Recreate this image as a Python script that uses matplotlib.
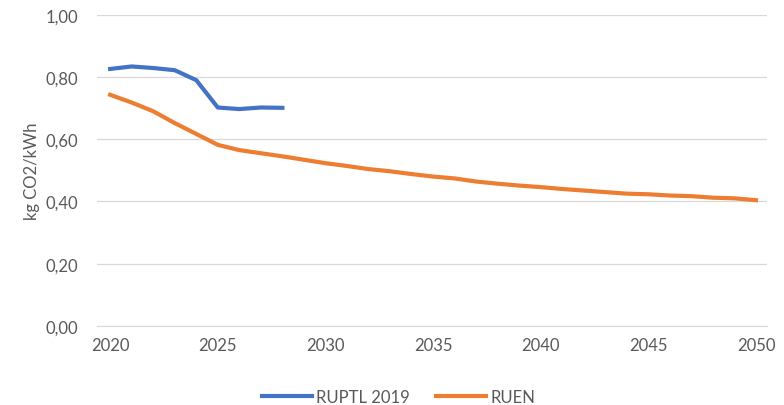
import matplotlib
matplotlib.use("Agg")
import matplotlib.pyplot as plt
from matplotlib.ticker import FuncFormatter

years_ruptl = [2020, 2021, 2022, 2023, 2024, 2025, 2026, 2027, 2028]
ruptl_2019 = [0.826, 0.834, 0.829, 0.822, 0.790, 0.702, 0.697, 0.702, 0.701]

years_ruen = list(range(2020, 2051))
ruen = [0.743, 0.718, 0.690, 0.652, 0.617, 0.582, 0.565, 0.555, 0.545, 0.534,
        0.523, 0.514, 0.504, 0.497, 0.488, 0.480, 0.474, 0.464, 0.457, 0.451,
        0.446, 0.440, 0.435, 0.430, 0.425, 0.423, 0.419, 0.417, 0.412, 0.410,
        0.404]

grey = "#595959"
plt.rcParams['font.family'] = ['Lato', 'DejaVu Sans']

fig = plt.figure(figsize=(7.84, 4.06), dpi=100)
ax = fig.add_axes([0.124, 0.195, 0.854, 0.766])

ax.plot(years_ruptl, ruptl_2019, color="#4472C4", lw=3.0, label="RUPTL 2019")
ax.plot(years_ruen, ruen, color="#ED7D31", lw=3.0, label="RUEN")

ax.set_xlim(2019.4, 2050.5)
ax.set_ylim(0, 1.0)
ax.set_xticks(range(2020, 2051, 5))
ax.set_yticks([0, 0.2, 0.4, 0.6, 0.8, 1.0])
ax.yaxis.set_major_formatter(FuncFormatter(lambda v, p: f"{v:.2f}".replace(".", ",")))
ax.grid(axis="y", color="#D9D9D9", lw=0.9)
ax.set_axisbelow(True)
for s in ["top", "right", "left"]:
    ax.spines[s].set_visible(False)
ax.spines["bottom"].set_color("#D9D9D9")
ax.tick_params(axis="both", length=0, labelsize=12, labelcolor=grey)
ax.tick_params(axis="x", pad=8)
ax.tick_params(axis="y", pad=14)
ax.set_ylabel("kg CO2/kWh", fontsize=12, color=grey, labelpad=4)

ax.legend(loc="upper center", bbox_to_anchor=(0.45, -0.155), ncol=2, frameon=False,
          fontsize=12, labelcolor=grey, handlelength=3.0, handletextpad=0.25,
          columnspacing=1.6)

fig.savefig("out.png", dpi=100)
